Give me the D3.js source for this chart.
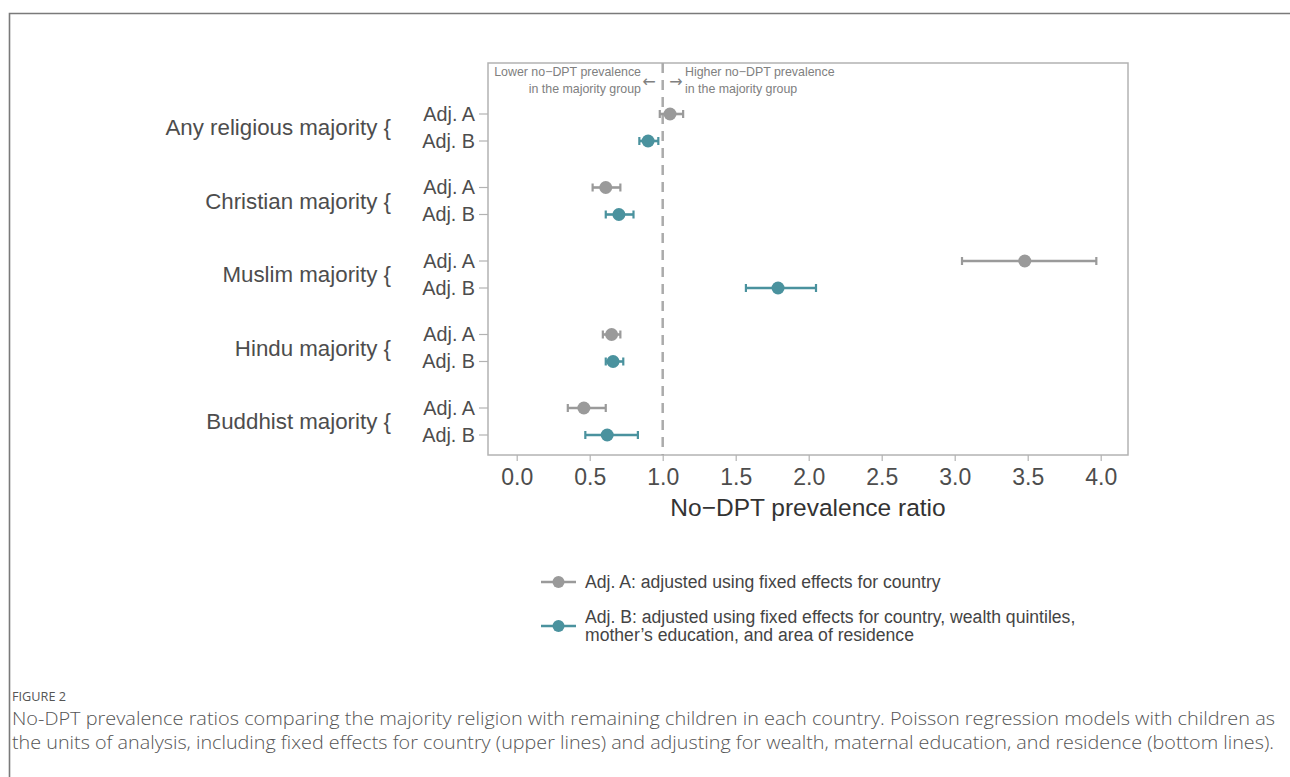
<!DOCTYPE html>
<html>
<head>
<meta charset="utf-8">
<script src="https://cdn.jsdelivr.net/npm/d3@7"></script>
<style>
  body { margin: 0; background: #fff; }
  svg { display: block; font-family: "Liberation Sans", Arial, sans-serif; }
</style>
</head>
<body>
<div id="chart"></div>
<script>
// ── data ──
var groups = ["Any religious majority", "Christian majority", "Muslim majority", "Hindu majority", "Buddhist majority"];
var adjustments = ["Adj. A", "Adj. B"];
var adjAEst = [1.05, 0.61, 3.48, 0.65, 0.46];
var adjALow = [0.98, 0.52, 3.05, 0.59, 0.35];
var adjAHigh = [1.14, 0.71, 3.97, 0.71, 0.61];
var adjBEst = [0.90, 0.70, 1.79, 0.66, 0.62];
var adjBLow = [0.84, 0.61, 1.57, 0.61, 0.47];
var adjBHigh = [0.97, 0.80, 2.05, 0.73, 0.83];
var xTicks = [0, 0.5, 1, 1.5, 2, 2.5, 3, 3.5, 4];
var legendLabels = [
  ["Adj. A: adjusted using fixed effects for country"],
  ["Adj. B: adjusted using fixed effects for country, wealth quintiles,", "mother\u2019s education, and area of residence"]
];
var captionTitle = "FIGURE 2";
var captionLines = [
  "No-DPT prevalence ratios comparing the majority religion with remaining children in each country. Poisson regression models with children as",
  "the units of analysis, including fixed effects for country (upper lines) and adjusting for wealth, maternal education, and residence (bottom lines)."
];

var colors = { "Adj. A": "#9a9a9a", "Adj. B": "#4a929e" };

// build rows
var rows = [];
groups.forEach(function(g, i) {
  rows.push({ group: g, adj: "Adj. A", est: adjAEst[i], lo: adjALow[i], hi: adjAHigh[i] });
  rows.push({ group: g, adj: "Adj. B", est: adjBEst[i], lo: adjBLow[i], hi: adjBHigh[i] });
});

var W = 1290, H = 777;
var panel = { left: 488, right: 1128, top: 63, bottom: 455 };

var svg = d3.select("#chart").append("svg")
  .attr("width", W).attr("height", H);

// page frame
svg.append("path")
  .attr("d", "M9.5," + H + "V13.5H" + W)
  .attr("fill", "none").attr("stroke", "#7a7a7a").attr("stroke-width", 1.6);

// scales
var x = d3.scaleLinear().domain([0, 4]).range([516.7, 1100.7]);
var yGroup = d3.scalePoint().domain(groups).range([127.5, 421.5]);
var yAdj = d3.scalePoint().domain(adjustments).range([-13.5, 13.5]);
function yRow(d) { return yGroup(d.group) + yAdj(d.adj); }

// panel border
svg.append("rect")
  .attr("x", panel.left).attr("y", panel.top)
  .attr("width", panel.right - panel.left).attr("height", panel.bottom - panel.top)
  .attr("fill", "none").attr("stroke", "#b3b3b3").attr("stroke-width", 1.5);

// x axis
var xAxis = svg.append("g")
  .attr("transform", "translate(0," + panel.bottom + ")")
  .call(d3.axisBottom(x).tickValues(xTicks).tickFormat(d3.format(".1f")).tickSize(6).tickPadding(8));
xAxis.select(".domain").remove();
xAxis.selectAll(".tick line").attr("stroke", "#b3b3b3").attr("stroke-width", 1.2);
xAxis.selectAll(".tick text")
  .attr("fill", "#4d4d4d").attr("font-size", 23)
  .attr("font-family", "Liberation Sans, Arial, sans-serif");

svg.append("text")
  .attr("x", (panel.left + panel.right) / 2).attr("y", 516)
  .attr("text-anchor", "middle").attr("fill", "#333")
  .attr("font-size", 24.5)
  .text("No\u2212DPT prevalence ratio");

// y axis: Adj. labels with short ticks
var yTicks = svg.append("g");
yTicks.selectAll("line").data(rows).enter().append("line")
  .attr("x1", panel.left - 9).attr("x2", panel.left)
  .attr("y1", yRow).attr("y2", yRow)
  .attr("stroke", "#b3b3b3").attr("stroke-width", 1.2);
yTicks.selectAll("text").data(rows).enter().append("text")
  .attr("x", panel.left - 13).attr("y", yRow)
  .attr("dy", "0.35em").attr("text-anchor", "end")
  .attr("fill", "#4d4d4d").attr("font-size", 19.8)
  .text(function(d) { return d.adj; });

// group labels
svg.append("g").selectAll("text").data(groups).enter().append("text")
  .attr("x", 391).attr("y", function(d) { return yGroup(d); })
  .attr("dy", "0.35em").attr("text-anchor", "end")
  .attr("fill", "#4d4d4d").attr("font-size", 22.3)
  .text(function(d) { return d + " {"; });

// reference line at 1
svg.append("line")
  .attr("x1", x(1)).attr("x2", x(1))
  .attr("y1", panel.top).attr("y2", panel.bottom)
  .attr("stroke", "#ababab").attr("stroke-width", 2.5)
  .attr("stroke-dasharray", "10,7");

// direction annotations
var ann = svg.append("g").attr("fill", "#808080").attr("font-size", 12.4);
ann.append("text").attr("x", 641).attr("y", 76).attr("text-anchor", "end").text("Lower no\u2212DPT prevalence");
ann.append("text").attr("x", 641).attr("y", 93).attr("text-anchor", "end").text("in the majority group");
ann.append("text").attr("x", 685).attr("y", 76).text("Higher no\u2212DPT prevalence");
ann.append("text").attr("x", 685).attr("y", 93).text("in the majority group");
ann.append("text").attr("x", 649).attr("y", 87).attr("text-anchor", "middle")
  .attr("font-family", "DejaVu Sans").attr("font-size", 16).text("\u2190");
ann.append("text").attr("x", 676).attr("y", 87).attr("text-anchor", "middle")
  .attr("font-family", "DejaVu Sans").attr("font-size", 16).text("\u2192");

// error bars + points
var marks = svg.append("g").selectAll("g").data(rows).enter().append("g")
  .attr("transform", function(d) { return "translate(0," + yRow(d) + ")"; });
marks.append("line")
  .attr("x1", function(d) { return x(d.lo); }).attr("x2", function(d) { return x(d.hi); })
  .attr("stroke", function(d) { return colors[d.adj]; }).attr("stroke-width", 2.6);
["lo", "hi"].forEach(function(k) {
  marks.append("line")
    .attr("x1", function(d) { return x(d[k]); }).attr("x2", function(d) { return x(d[k]); })
    .attr("y1", -4).attr("y2", 4)
    .attr("stroke", function(d) { return colors[d.adj]; }).attr("stroke-width", 2.2);
});
marks.append("circle")
  .attr("cx", function(d) { return x(d.est); })
  .attr("r", 6.5)
  .attr("fill", function(d) { return colors[d.adj]; });

// legend
var legendY = [582, 626];
var legend = svg.append("g").selectAll("g").data(adjustments).enter().append("g")
  .attr("transform", function(d, i) { return "translate(0," + legendY[i] + ")"; });
legend.append("line")
  .attr("x1", 541).attr("x2", 576)
  .attr("stroke", function(d) { return colors[d]; }).attr("stroke-width", 2.6);
legend.append("circle")
  .attr("cx", 558.5).attr("r", 6)
  .attr("fill", function(d) { return colors[d]; });
legend.each(function(d, i) {
  var lines = legendLabels[i];
  var t = d3.select(this).append("text")
    .attr("fill", "#444").attr("font-size", 17.6);
  lines.forEach(function(s, j) {
    t.append("tspan")
      .attr("x", 585)
      .attr("y", (j - (lines.length - 1) / 2) * 18.5)
      .attr("dy", "0.35em")
      .text(s);
  });
});

// caption
svg.append("text")
  .attr("x", 12).attr("y", 701)
  .attr("fill", "#555").attr("font-size", 12)
  .attr("font-family", "Open Sans, sans-serif")
  .attr("textLength", 54).attr("lengthAdjust", "spacingAndGlyphs")
  .text(captionTitle);
svg.append("g").selectAll("text").data(captionLines).enter().append("text")
  .attr("x", 12).attr("y", function(d, i) { return 725 + i * 23.5; })
  .attr("fill", "#555").attr("font-size", 18.5)
  .attr("font-family", "Open Sans, sans-serif").attr("font-weight", 300)
  .attr("textLength", function(d, i) { return i === 0 ? 1263 : 1262; })
  .attr("lengthAdjust", "spacingAndGlyphs")
  .text(function(d) { return d; });
</script>
</body>
</html>
